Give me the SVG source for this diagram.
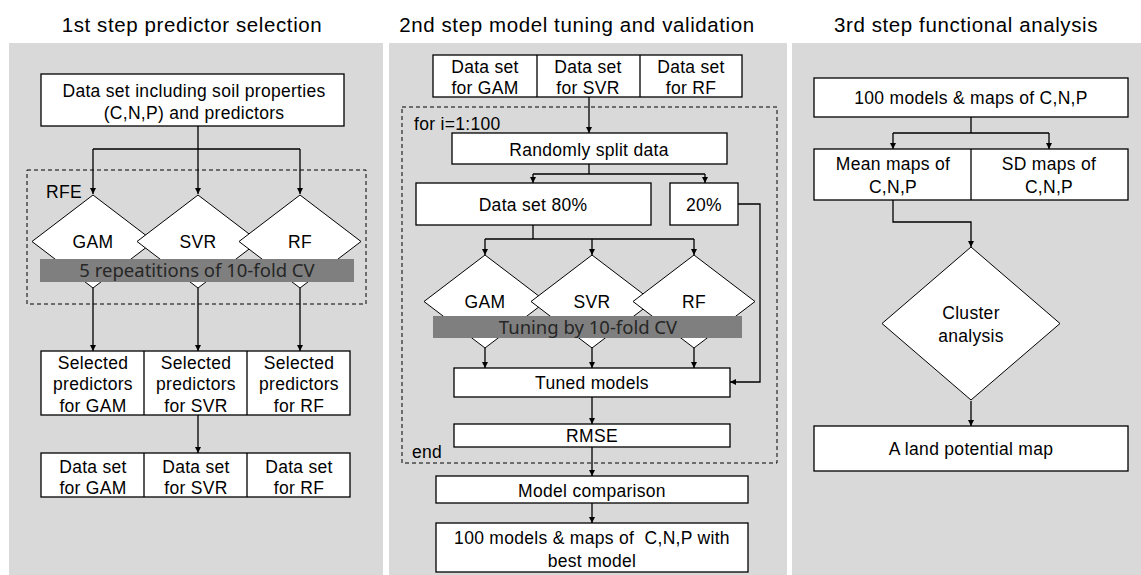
<svg xmlns="http://www.w3.org/2000/svg" width="1141" height="575" viewBox="0 0 1141 575">
<style>
.bg{fill:#d9d9d9}
.box{fill:#fff;stroke:#000;stroke-width:1.3}
.dia{fill:#fff;stroke:#000;stroke-width:1}
.bar{fill:#7f7f7f}
.dash{fill:none;stroke:#000;stroke-width:1;stroke-dasharray:4,3}
.t{font-family:"Liberation Sans",Arial,sans-serif;font-size:17.5px;letter-spacing:0.3px;fill:#000;text-anchor:middle}
.tl{font-family:"Liberation Sans",Arial,sans-serif;font-size:17.5px;letter-spacing:0.3px;fill:#000}
.title{font-family:"Liberation Sans",Arial,sans-serif;font-size:20.5px;letter-spacing:0.6px;fill:#000;text-anchor:middle}
.bt{font-family:"Noto Sans","Liberation Sans",sans-serif;font-size:18.5px;fill:#262626;text-anchor:middle}
.c{fill:none;stroke:#000;stroke-width:1.3}
</style>
<defs>
<marker id="ah" viewBox="0 0 10 10" refX="10" refY="5" markerWidth="6" markerHeight="6" markerUnits="userSpaceOnUse" orient="auto">
<path d="M0,0 L10,5 L0,10 z" fill="#000"/>
</marker>
</defs>
<rect width="1141" height="575" fill="#fff"/>
<g id="panels">
<rect class="bg" x="9" y="43" width="374" height="532"/>
<rect class="bg" x="389" y="43" width="398" height="532"/>
<rect class="bg" x="792" y="43" width="349" height="532"/>
<text class="title" x="192" y="32">1st step predictor selection</text>
<text class="title" x="577" y="32">2nd step model tuning and validation</text>
<text class="title" x="966" y="32">3rd step functional analysis</text>
</g>
<g id="loops">
<rect class="dash" x="27" y="170" width="339" height="134"/>
<text class="tl" x="46" y="198">RFE</text>
<rect class="dash" x="402" y="107" width="375" height="356"/>
<text class="tl" x="414" y="130">for i=1:100</text>
<text class="tl" x="412" y="458">end</text>
</g>
<g id="connectors">
<path class="c" d="M198,126 V149 M93,149 H300"/>
<path class="c" d="M93,149 V194" marker-end="url(#ah)"/>
<path class="c" d="M198,149 V194" marker-end="url(#ah)"/>
<path class="c" d="M300,149 V194" marker-end="url(#ah)"/>
<path class="c" d="M93,288 V351" marker-end="url(#ah)"/>
<path class="c" d="M198,288 V351" marker-end="url(#ah)"/>
<path class="c" d="M300,288 V351" marker-end="url(#ah)"/>
<path class="c" d="M198,415 V453" marker-end="url(#ah)"/>
<path class="c" d="M589,97 V133" marker-end="url(#ah)"/>
<path class="c" d="M589,164 V174 M533,174 H705"/>
<path class="c" d="M533,174 V183" marker-end="url(#ah)"/>
<path class="c" d="M705,174 V183" marker-end="url(#ah)"/>
<path class="c" d="M738,204 H760 V382 H730" marker-end="url(#ah)"/>
<path class="c" d="M533,225 V239 M485,239 H694"/>
<path class="c" d="M485,239 V255" marker-end="url(#ah)"/>
<path class="c" d="M592,239 V255" marker-end="url(#ah)"/>
<path class="c" d="M694,239 V255" marker-end="url(#ah)"/>
<path class="c" d="M485,348 V368" marker-end="url(#ah)"/>
<path class="c" d="M592,348 V368" marker-end="url(#ah)"/>
<path class="c" d="M694,348 V368" marker-end="url(#ah)"/>
<path class="c" d="M592,397 V424" marker-end="url(#ah)"/>
<path class="c" d="M592,447 V476" marker-end="url(#ah)"/>
<path class="c" d="M592,503 V523" marker-end="url(#ah)"/>
<path class="c" d="M971,117 V133 M893,133 H1049"/>
<path class="c" d="M893,133 V149" marker-end="url(#ah)"/>
<path class="c" d="M1049,133 V149" marker-end="url(#ah)"/>
<path class="c" d="M893,200 V222 H971 V247" marker-end="url(#ah)"/>
<path class="c" d="M971,401 V426" marker-end="url(#ah)"/>
</g>
<g id="n1-data">
<rect class="box" x="41" y="74" width="303" height="52"/>
<text class="t" x="194" y="97">Data set including soil properties</text>
<text class="t" x="194" y="119">(C,N,P) and predictors</text>
</g>
<g id="n1-diamonds">
<polygon class="dia" points="93,195 154,241.5 93,288 32,241.5"/>
<polygon class="dia" points="198,195 259,241.5 198,288 137,241.5"/>
<polygon class="dia" points="300,195 361,241.5 300,288 239,241.5"/>
<text class="t" x="93" y="248">GAM</text>
<text class="t" x="198" y="248">SVR</text>
<text class="t" x="300" y="248">RF</text>
<rect class="bar" x="40" y="259" width="314" height="23"/>
<text class="bt" x="197" y="277">5 repeatitions of 10-fold CV</text>
</g>
<g id="n1-selected">
<rect class="box" x="41" y="351" width="309" height="64"/>
<path class="c" d="M144,351 V415 M247,351 V415"/>
<text class="t" x="93" y="369">Selected</text>
<text class="t" x="93" y="390">predictors</text>
<text class="t" x="93" y="412">for GAM</text>
<text class="t" x="196" y="369">Selected</text>
<text class="t" x="196" y="390">predictors</text>
<text class="t" x="196" y="412">for SVR</text>
<text class="t" x="299" y="369">Selected</text>
<text class="t" x="299" y="390">predictors</text>
<text class="t" x="299" y="412">for RF</text>
</g>
<g id="n1-datasets">
<rect class="box" x="41" y="453" width="309" height="44"/>
<path class="c" d="M144,453 V497 M247,453 V497"/>
<text class="t" x="93" y="473">Data set</text>
<text class="t" x="93" y="494">for GAM</text>
<text class="t" x="196" y="473">Data set</text>
<text class="t" x="196" y="494">for SVR</text>
<text class="t" x="299" y="473">Data set</text>
<text class="t" x="299" y="494">for RF</text>
</g>
<g id="n2-datasets">
<rect class="box" x="433" y="55" width="309" height="42"/>
<path class="c" d="M537,55 V97 M640,55 V97"/>
<text class="t" x="485" y="73">Data set</text>
<text class="t" x="485" y="94">for GAM</text>
<text class="t" x="588" y="73">Data set</text>
<text class="t" x="588" y="94">for SVR</text>
<text class="t" x="691" y="73">Data set</text>
<text class="t" x="691" y="94">for RF</text>
</g>
<g id="n2-split">
<rect class="box" x="452" y="133" width="275" height="31"/>
<text class="t" x="589" y="156">Randomly split data</text>
</g>
<g id="n2-80">
<rect class="box" x="416" y="183" width="235" height="42"/>
<text class="t" x="533" y="211">Data set 80%</text>
</g>
<g id="n2-20">
<rect class="box" x="670" y="183" width="68" height="42"/>
<text class="t" x="704" y="211">20%</text>
</g>
<g id="n2-diamonds">
<polygon class="dia" points="485,255 546,301.5 485,348 424,301.5"/>
<polygon class="dia" points="592,255 653,301.5 592,348 531,301.5"/>
<polygon class="dia" points="694,255 755,301.5 694,348 633,301.5"/>
<text class="t" x="485" y="308">GAM</text>
<text class="t" x="592" y="308">SVR</text>
<text class="t" x="694" y="308">RF</text>
<rect class="bar" x="433" y="316" width="309" height="22"/>
<text class="bt" x="588" y="334">Tuning by 10-fold CV</text>
</g>
<g id="n2-tuned">
<rect class="box" x="454" y="368" width="276" height="29"/>
<text class="t" x="592" y="389">Tuned models</text>
</g>
<g id="n2-rmse">
<rect class="box" x="454" y="424" width="276" height="23"/>
<text class="t" x="592" y="442">RMSE</text>
</g>
<g id="n2-compare">
<rect class="box" x="436" y="476" width="312" height="27"/>
<text class="t" x="592" y="497">Model comparison</text>
</g>
<g id="n2-final">
<rect class="box" x="436" y="523" width="312" height="49"/>
<text class="t" x="592" y="544" xml:space="preserve">100 models &amp; maps of  C,N,P with</text>
<text class="t" x="592" y="567">best model</text>
</g>
<g id="n3-models">
<rect class="box" x="814" y="78" width="314" height="39"/>
<text class="t" x="971" y="104">100 models &amp; maps of C,N,P</text>
</g>
<g id="n3-maps">
<rect class="box" x="814" y="149" width="314" height="51"/>
<path class="c" d="M971,149 V200"/>
<text class="t" x="893" y="170">Mean maps of</text>
<text class="t" x="893" y="193">C,N,P</text>
<text class="t" x="1049" y="170">SD maps of</text>
<text class="t" x="1049" y="193">C,N,P</text>
</g>
<g id="n3-cluster">
<polygon class="dia" points="971,247 1060,323.5 971,400 882,323.5"/>
<text class="t" x="971" y="319">Cluster</text>
<text class="t" x="971" y="342">analysis</text>
</g>
<g id="n3-land">
<rect class="box" x="814" y="426" width="314" height="45"/>
<text class="t" x="971" y="455">A land potential map</text>
</g>
</svg>
